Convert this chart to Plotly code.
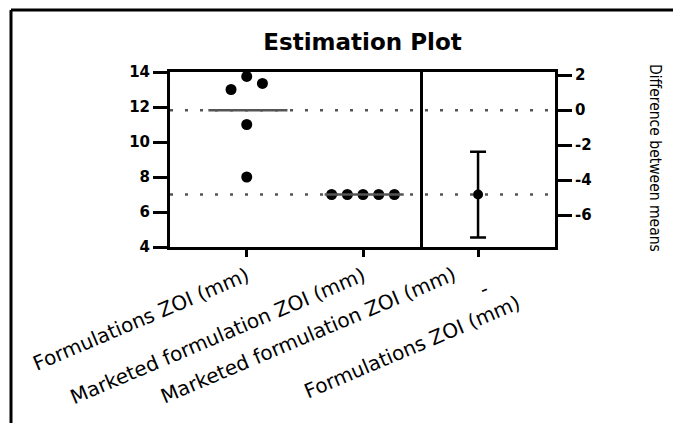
import numpy as np
import plotly.graph_objects as go

# ---------------- data ----------------
groups = ["Formulations ZOI (mm)", "Marketed formulation ZOI (mm)"]
formulations = [13.0, 13.75, 13.35, 11.0, 8.0]
marketed = [7.0, 7.0, 7.0, 7.0, 7.0]
diff_label_lines = ["Marketed formulation ZOI (mm)", "-", "Formulations ZOI (mm)"]
ci_low = -7.28
ci_high = -2.38
left_ticks = [4, 6, 8, 10, 12, 14]
right_ticks = [-6, -4, -2, 0, 2]
title_text = "Estimation Plot"
right_title = "Difference between means"

# ---------------- layout helpers ----------------
W, H = 673, 423
L, R, T, B = 170, 118, 72, 176
PW, PH = W - L - R, H - T - B
split = 250 / PW          # divider between the two panels (paper)
spacing = 0.135           # swarm spacing in x units
form_offsets = [-1, 0, 1, 0, 0]
mark_offsets = [-2, -1, 0, 1, 2]

def px(x):
    return (x - L) / PW

def py(y):
    return 1 - (y - T) / PH

mean_f = float(np.mean(formulations))
mean_m = float(np.mean(marketed))
diff = mean_m - mean_f

fig = go.Figure()

pos_f, pos_m = 0, 1
fig.add_trace(go.Scatter(
    x=[pos_f + o * spacing for o in form_offsets], y=formulations,
    mode="markers", marker=dict(size=11, color="black"),
    xaxis="x", yaxis="y", showlegend=False, hoverinfo="skip"))
fig.add_trace(go.Scatter(
    x=[pos_m + o * spacing for o in mark_offsets], y=marketed,
    mode="markers", marker=dict(size=11, color="black"),
    xaxis="x", yaxis="y", showlegend=False, hoverinfo="skip"))
for pos, m in [(pos_f, mean_f), (pos_m, mean_m)]:
    fig.add_trace(go.Scatter(
        x=[pos - 0.33, pos + 0.35], y=[m, m], mode="lines",
        line=dict(color="#555555", width=2.5),
        xaxis="x", yaxis="y", showlegend=False, hoverinfo="skip"))

fig.add_trace(go.Scatter(
    x=[0], y=[diff], mode="markers",
    marker=dict(size=10, color="black"),
    error_y=dict(type="data", symmetric=False,
                 array=[ci_high - diff], arrayminus=[diff - ci_low],
                 width=8, thickness=2.5, color="black"),
    xaxis="x2", yaxis="y2", showlegend=False, hoverinfo="skip"))

axis_common = dict(showline=True, linewidth=3, linecolor="black",
                   showgrid=False, zeroline=False, ticks="outside",
                   tickcolor="black", tickwidth=2.5)
num_font = dict(family="DejaVu Sans", size=15, color="black", weight="bold")
lab_font = dict(family="DejaVu Sans", size=20, color="black")

shapes = []
for m in (mean_f, mean_m):
    shapes.append(dict(type="line", xref="paper", yref="y", x0=0, x1=1,
                       y0=m, y1=m, layer="below",
                       line=dict(color="#555555", width=2.5, dash="3px,12px")))
# outer frame (top and left edges)
shapes.append(dict(type="line", xref="paper", yref="paper",
                   x0=px(11), x1=px(W + 2), y0=py(10), y1=py(10),
                   line=dict(color="black", width=3)))
shapes.append(dict(type="line", xref="paper", yref="paper",
                   x0=px(11), x1=px(11), y0=py(10), y1=py(H + 2),
                   line=dict(color="black", width=3)))

annotations = [dict(text=right_title, textangle=90, xref="paper", yref="paper",
                    x=px(655), y=py(158), xanchor="center", yanchor="middle",
                    showarrow=False,
                    font=dict(family="DejaVu Sans Condensed, Liberation Sans",
                              size=15.5, color="black"))]
step = (32, 14.5)
for i, line in enumerate(diff_label_lines):
    annotations.append(dict(text=line, textangle=-23, xref="x2", yref="paper",
                            x=0, y=0, xanchor="right", yanchor="top",
                            xshift=-16 + i * step[0], yshift=-12 - i * step[1],
                            showarrow=False, font=lab_font))

fig.update_layout(
    width=W, height=H, margin=dict(l=L, r=R, t=T, b=B),
    paper_bgcolor="white", plot_bgcolor="white",
    title=dict(text=title_text, x=0.5, xref="paper", xanchor="center",
               y=1 - 42 / H, yref="container", yanchor="middle",
               font=dict(family="DejaVu Sans", size=23, color="black", weight="bold")),
    xaxis=dict(domain=[0, split], range=[-0.66, 1.49], anchor="y",
               tickvals=[pos_f, pos_m], ticktext=groups, tickangle=-23,
               ticklen=7, mirror=True, tickfont=lab_font, **axis_common),
    xaxis2=dict(domain=[split, 1], range=[-0.43, 0.57], anchor="y2",
                tickvals=[0], ticktext=[""], ticklen=7, mirror=True,
                **axis_common),
    yaxis=dict(domain=[0, 1], range=[4, 14], anchor="x",
               tickvals=left_ticks, ticktext=[str(v) for v in left_ticks],
               ticklen=14, mirror=True, tickfont=num_font, **axis_common),
    yaxis2=dict(domain=[0, 1], range=[4 - mean_f, 14 - mean_f], anchor="x2",
                side="right", tickvals=right_ticks,
                ticktext=[str(v) for v in right_ticks],
                ticklen=14, tickfont=num_font, **axis_common),
    shapes=shapes, annotations=annotations,
)

fig.write_html("out.html")
